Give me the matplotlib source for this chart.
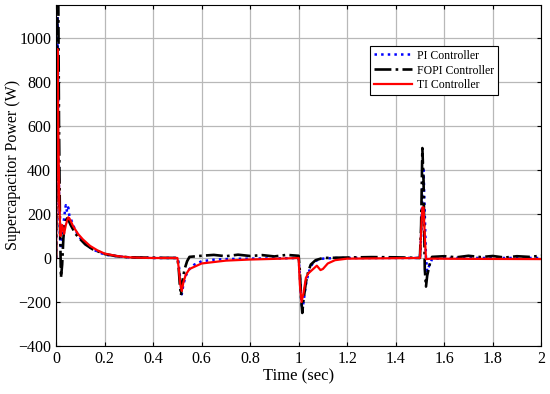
import numpy as np
import matplotlib.pyplot as plt

plt.rcParams['font.family'] = ['Liberation Serif', 'DejaVu Serif']

# PI controller (blue dotted)
t_pi = [0, 0.003, 0.006, 0.009, 0.012, 0.016, 0.02, 0.025, 0.03, 0.035,
        0.04, 0.045, 0.05, 0.055, 0.06, 0.07, 0.08, 0.09, 0.1, 0.12,
        0.14, 0.16, 0.18, 0.2, 0.25, 0.3, 0.35, 0.4, 0.45, 0.5,
        0.505, 0.512, 0.518, 0.525, 0.535, 0.55, 0.57, 0.6, 0.65, 0.7,
        0.8, 0.9, 1.0, 1.005, 1.01, 1.015, 1.02, 1.03, 1.04, 1.05,
        1.06, 1.08, 1.1, 1.15, 1.2, 1.3, 1.4, 1.5, 1.505, 1.51,
        1.515, 1.52, 1.525, 1.53, 1.54, 1.55, 1.6, 1.7, 1.8, 2.0]
p_pi = [0, 600, 1100, 700, 300, 100, 40, 80, 150, 200,
        240, 210, 230, 190, 180, 150, 125, 105, 90, 65,
        48, 35, 25, 15, 8, 3, 2, 0, 0, 0,
        -20, -100, -165, -120, -80, -50, -30, -15, -8, -5,
        -3, -2, 0, -80, -180, -240, -200, -120, -70, -40,
        -20, -8, -3, 0, 0, 0, 0, 0, 100, 300,
        400, 200, 0, -60, -30, -5, 0, 0, 0, 0]

# FOPI controller (black dash-dot)
t_fopi = [0, 0.003, 0.006, 0.009, 0.012, 0.016, 0.02, 0.025, 0.03, 0.035,
          0.04, 0.045, 0.05, 0.06, 0.07, 0.08, 0.1, 0.12, 0.15, 0.2,
          0.25, 0.3, 0.4, 0.5, 0.505, 0.51, 0.515, 0.52, 0.53, 0.54,
          0.55, 0.6, 0.65, 0.7, 0.75, 0.8, 0.85, 0.9, 0.95, 1.0,
          1.005, 1.01, 1.015, 1.02, 1.03, 1.04, 1.05, 1.07, 1.1, 1.2,
          1.3, 1.4, 1.5, 1.505, 1.51, 1.515, 1.52, 1.525, 1.53, 1.54,
          1.55, 1.6, 1.65, 1.7, 1.75, 1.8, 1.85, 1.9, 1.95, 2.0]
p_fopi = [0, 800, 1200, 1200, 600, 150, -90, -30, 90, 150,
          170, 180, 175, 150, 130, 110, 85, 62, 40, 18,
          8, 3, 1, 0, -40, -120, -170, -110, -50, -15,
          5, 10, 14, 8, 15, 9, 13, 7, 14, 10,
          -60, -180, -250, -190, -110, -60, -30, -10, 0, 2,
          4, 3, 0, 150, 500, 350, -50, -130, -80, -30,
          5, 8, 3, 10, 4, 9, 2, 8, 5, 10]

# TI controller (red solid)
t_ti = [0, 0.003, 0.006, 0.009, 0.013, 0.018, 0.025, 0.033, 0.04, 0.05,
        0.055, 0.07, 0.09, 0.11, 0.14, 0.17, 0.2, 0.25, 0.3, 0.35,
        0.4, 0.5, 0.505, 0.512, 0.518, 0.525, 0.535, 0.55, 0.6, 0.7,
        0.8, 0.9, 1.0, 1.005, 1.012, 1.02, 1.03, 1.04, 1.06, 1.075,
        1.09, 1.1, 1.12, 1.15, 1.2, 1.3, 1.4, 1.5, 1.505, 1.51,
        1.515, 1.52, 1.525, 1.55, 1.7, 2.0]
p_ti = [0, 500, 950, 600, 250, 100, 150, 110, 150, 185,
        180, 145, 110, 85, 55, 35, 20, 9, 3, 1,
        0, 0, -40, -120, -150, -110, -75, -50, -25, -12,
        -7, -4, 0, -120, -200, -160, -90, -70, -50, -35,
        -55, -50, -25, -10, -3, -2, -1, 0, 120, 230,
        230, 100, -5, -3, -4, -5]

fig, ax = plt.subplots(figsize=(5.5, 3.94), dpi=100)
fig.subplots_adjust(left=0.102, right=0.984, bottom=0.122, top=0.987)

ax.plot(t_pi, p_pi, color='blue', linestyle=':', linewidth=1.8, label='PI Controller')
ax.plot(t_fopi, p_fopi, color='black', linestyle='-.', linewidth=1.9, label='FOPI Controller')
ax.plot(t_ti, p_ti, color='red', linestyle='-', linewidth=1.6, label='TI Controller')

ax.set_xlim(0, 2)
ax.set_ylim(-400, 1150)
ax.set_xticks(np.arange(0, 2.01, 0.2))
ax.set_xticklabels(['0', '0.2', '0.4', '0.6', '0.8', '1', '1.2', '1.4', '1.6', '1.8', '2'])
ax.set_yticks(np.arange(-400, 1001, 200))
ax.tick_params(direction='in', top=True, right=True, labelsize=11.5, length=3)
ax.grid(True, color='#b8b8b8', linewidth=0.9)
ax.set_xlabel('Time (sec)', fontsize=12, labelpad=1)
ax.set_ylabel('Supercapacitor Power (W)', fontsize=11.5)
ax.yaxis.set_label_coords(-0.072, 0.53)

leg = ax.legend(loc='upper left', bbox_to_anchor=(0.647, 0.88), fontsize=8.5,
                fancybox=False, edgecolor='black', framealpha=1,
                handlelength=3.3, borderpad=0.3, labelspacing=0.25,
                handletextpad=0.4, borderaxespad=0)
leg.get_frame().set_linewidth(0.8)

plt.savefig('out.png')
